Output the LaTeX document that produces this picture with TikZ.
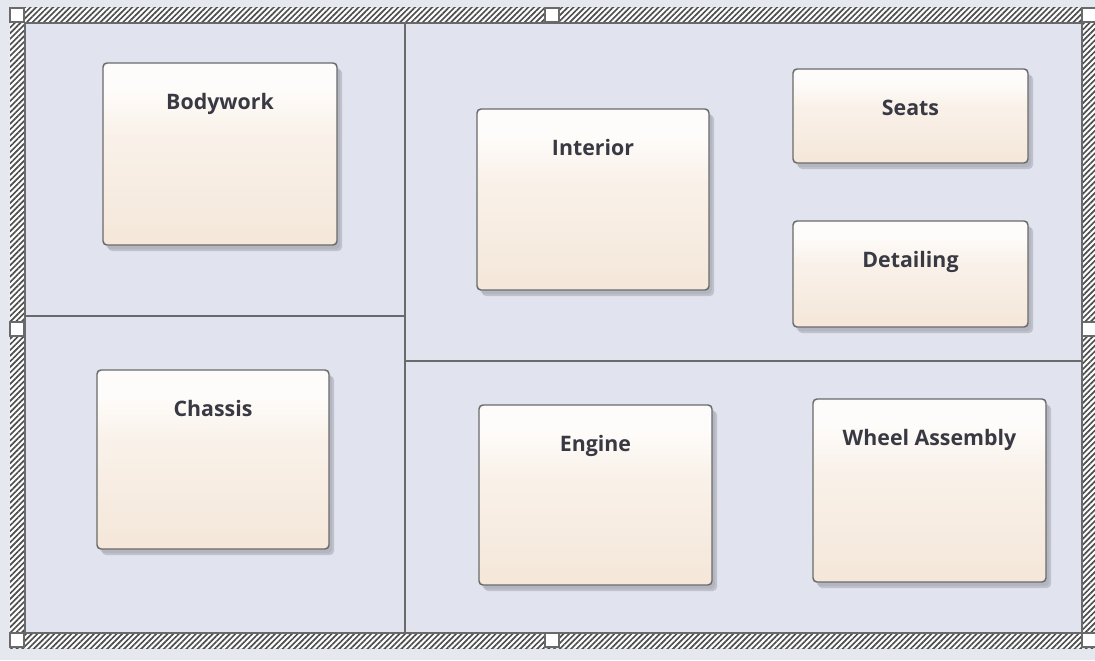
\documentclass[tikz,border=0pt]{standalone}
\usepackage{fontspec}
\setmainfont{Open Sans}
\usetikzlibrary{patterns.meta,calc}
\definecolor{bgout}{HTML}{E6E8F0}
\definecolor{bgin}{HTML}{E1E4EF}
\definecolor{lineg}{HTML}{6A6A6A}
\definecolor{hatchg}{HTML}{4E4E4E}
\definecolor{boxtop}{HTML}{FEFCFA}
\definecolor{boxbot}{HTML}{F2E1D0}
\definecolor{txt}{HTML}{383943}
\definecolor{shad}{HTML}{9EA1AB}
\pgfdeclareverticalshading{boxshade}{100bp}{color(0bp)=(boxbot); color(8bp)=(boxbot); color(55bp)=(boxtop!60!boxbot); color(68bp)=(boxtop); color(100bp)=(boxtop)}
\tikzset{
  elem/.style={draw=lineg, line width=1.1pt, rounded corners=3pt, shading=boxshade, inner sep=0pt},
  lbl/.style={font=\bfseries\fontsize{16}{18}\selectfont, text=txt, anchor=mid, inner sep=0pt},
  handle/.style={fill=white, draw=lineg, line width=0.8pt},
  divider/.style={draw=lineg, line width=1.1pt},
}
\newcommand\elem[6]{%
  \fill[shad, opacity=0.35, rounded corners=3pt] (#2+3,#3+4) rectangle (#4+3,#5+4);
  \fill[shad, opacity=0.5, rounded corners=3pt] (#2+5,#3+6) rectangle (#4+5,#5+6);
  \node[elem, minimum width={(#4-#2)*0.75pt}, minimum height={(#5-#3)*0.75pt}] (#1) at ({(#2+#4)/2},{(#3+#5)/2}) {};
  \node[lbl] (#1-t) at ({(#2+#4)/2},{#3+43}) {#6};
}
\begin{document}
\begin{tikzpicture}[x=0.75pt,y=-0.75pt]
\useasboundingbox (0,0) rectangle (1095,660);
\fill[bgout] (0,0) rectangle (1095,660);
% hatched frame
\fill[white] (10,8) rectangle (1097,648);
\fill[pattern={Lines[angle=45,distance=3pt,line width=1.25pt]}, pattern color=hatchg] (10,8) rectangle (1097,648);
\fill[bgin] (25,23) rectangle (1082,633);
\draw[lineg, line width=0.9pt] (25,23) rectangle (1082,633);
% dividers
\coordinate (vt) at (405,23);
\coordinate (vb) at (405,633);
\coordinate (hl1) at (25,316);
\coordinate (hl2) at (405,316);
\coordinate (hr1) at (405,361);
\coordinate (hr2) at (1082,361);
\draw[divider] (vt) -- (vb);
\draw[divider] (hl1) -- (hl2);
\draw[divider] (hr1) -- (hr2);
% handles
\foreach \x/\y in {10/8, 545/8, 1082/8, 10/322, 1082/322, 10/633, 545/633, 1082/633}
  \draw[handle] (\x,\y) rectangle (\x+14,\y+14);
% elements
\elem{bodywork}{103}{63}{337}{245}{Bodywork}
\elem{chassis}{97}{370}{329}{549}{Chassis}
\elem{interior}{477}{109}{709}{290}{Interior}
\elem{seats}{793}{69}{1028}{163}{Seats}
\elem{detailing}{793}{221}{1028}{327}{Detailing}
\elem{engine}{479}{405}{712}{585}{Engine}
\elem{wheel}{813}{399}{1046}{582}{Wheel Assembly}
\end{tikzpicture}
\end{document}
